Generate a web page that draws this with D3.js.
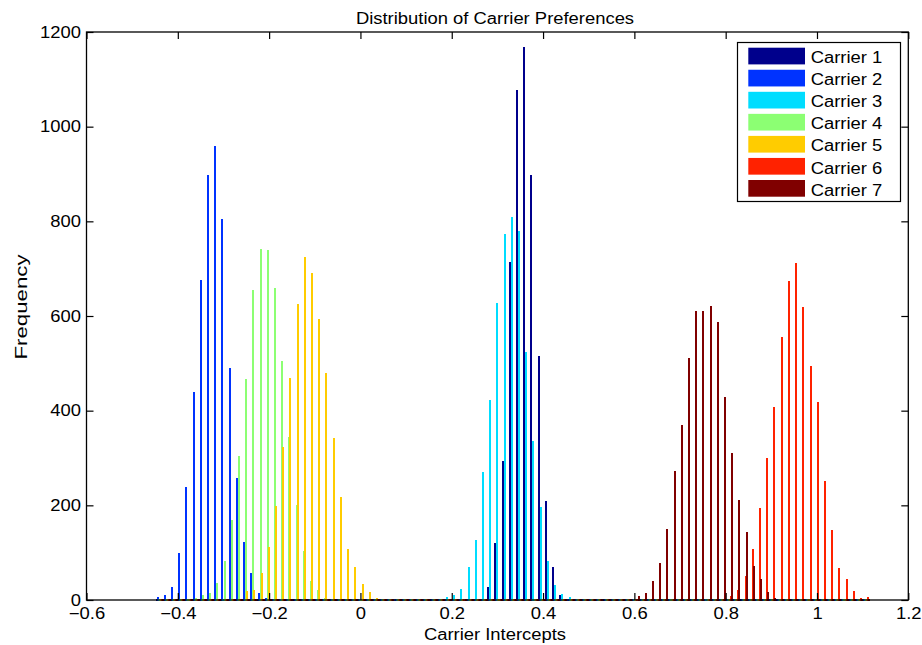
<!DOCTYPE html>
<html>
<head>
<meta charset="utf-8">
<script src="https://cdn.jsdelivr.net/npm/d3@7"></script>
<style>
body { margin: 0; background: #fff; }
text { font-family: "Liberation Sans", Arial, Helvetica, sans-serif; fill: #000; }
</style>
</head>
<body>
<div class="svg-container"></div>
<script>
var width = 922,
  height = 645;

// data
var carriers = ["Carrier 1", "Carrier 2", "Carrier 3", "Carrier 4", "Carrier 5", "Carrier 6", "Carrier 7"];
var colors = ["#00008c", "#0033ff", "#00ddff", "#8cff73", "#ffcc00", "#ff2200", "#800000"];

var binFirst = -0.4398,
  binWidth = 0.01579,
  binCount = 99;

// first bin index of each carrier's counts
var startBins = [45, 0, 40, 5, 12, 79, 64];

var carrier1 = [2, 27, 120, 294, 714, 1077, 1169, 897, 516, 210, 69, 10];
var carrier2 = [7, 10, 28, 100, 238, 439, 676, 898, 960, 804, 490, 258, 123, 58, 15, 5, 1, 2];
var carrier3 = [6, 10, 24, 69, 127, 270, 422, 627, 773, 810, 779, 525, 336, 196, 82, 31, 13, 6, 2];
var carrier4 = [4, 10, 14, 35, 83, 169, 304, 466, 655, 742, 739, 659, 504, 345, 200, 104, 40, 21, 5];
var carrier5 = [18, 21, 58, 111, 199, 324, 469, 625, 725, 690, 594, 479, 342, 218, 107, 69, 34, 16, 4];
var carrier6 = [8, 22, 50, 107, 194, 301, 407, 555, 673, 711, 618, 494, 418, 252, 148, 68, 44, 20, 4, 7];
var carrier7 = [2, 0, 9, 14, 41, 79, 151, 273, 370, 511, 611, 611, 621, 587, 428, 311, 211, 144, 72, 44, 16, 4, 0, 2];

var xTicks = [-0.6, -0.4, -0.2, 0, 0.2, 0.4, 0.6, 0.8, 1, 1.2];
var yTicks = [0, 200, 400, 600, 800, 1000, 1200];

var counts = [carrier1, carrier2, carrier3, carrier4, carrier5, carrier6, carrier7];

// full count table, one row per carrier
var series = counts.map(function(c, j) {
  var row = [];
  for (var k = 0; k < binCount; k++) {
    var i = k - startBins[j];
    row.push(i >= 0 && i < c.length ? c[i] : 0);
  }
  return row;
});

var axLeft = 86.5, axRight = 908.3, axTop = 32, axBottom = 600;

var x = d3.scaleLinear().domain([-0.6, 1.2]).range([axLeft, axRight]);
var y = d3.scaleLinear().domain([0, 1200]).range([axBottom, axTop]);

var svg = d3.select(".svg-container").append("svg")
  .attr("width", width)
  .attr("height", height);

var slot = (x(binWidth) - x(0)) / 7;
var barW = 2;

series.forEach(function(row, j) {
  svg.append("g")
    .selectAll("rect")
    .data(row)
    .enter()
    .append("rect")
    .attr("shape-rendering", "crispEdges")
    .attr("fill", colors[j])
    .attr("x", function(d, k) { return Math.round(x(binFirst + k * binWidth) + (j - 3) * slot - barW / 2); })
    .attr("width", barW)
    .attr("y", function(d) { return Math.min(y(d), axBottom - 1.5); })
    .attr("height", function(d) { return axBottom + 0.5 - Math.min(y(d), axBottom - 1.5); });
});

// axes
var gx = svg.append("g").attr("transform", "translate(0," + axBottom + ")")
  .call(d3.axisBottom(x).tickValues(xTicks).tickSizeInner(-7).tickSizeOuter(0).tickPadding(8)
    .tickFormat(function(d) { return d3.format("")(d).replace("-", "\u2212"); }));
var gxt = svg.append("g").attr("transform", "translate(0," + axTop + ")")
  .call(d3.axisTop(x).tickValues(xTicks).tickSizeInner(-7).tickSizeOuter(0).tickFormat(""));
var gy = svg.append("g").attr("transform", "translate(" + axLeft + ",0)")
  .call(d3.axisLeft(y).tickValues(yTicks).tickSizeInner(-7).tickSizeOuter(0).tickPadding(5.5)
    .tickFormat(d3.format("d")));
var gyr = svg.append("g").attr("transform", "translate(" + axRight + ",0)")
  .call(d3.axisRight(y).tickValues(yTicks).tickSizeInner(-7).tickSizeOuter(0).tickFormat(""));

[gx, gxt, gy, gyr].forEach(function(g) {
  g.select(".domain").remove();
  g.selectAll("line").attr("stroke", "#000").attr("stroke-width", 1.2);
  g.selectAll("text").attr("font-size", 16).attr("font-family", null);
});

svg.append("rect")
  .attr("x", axLeft).attr("y", axTop)
  .attr("width", axRight - axLeft).attr("height", axBottom - axTop)
  .attr("fill", "none")
  .attr("stroke", "#000")
  .attr("stroke-width", 1.3);

// titles
svg.append("text")
  .attr("class", "wide")
  .attr("x", 495).attr("y", 24)
  .attr("text-anchor", "middle")
  .attr("font-size", 16)
  .text("Distribution of Carrier Preferences");

svg.append("text")
  .attr("class", "wide")
  .attr("x", 495).attr("y", 640)
  .attr("text-anchor", "middle")
  .attr("font-size", 16)
  .text("Carrier Intercepts");

svg.append("text")
  .attr("transform", "translate(26.5,307) rotate(-90)")
  .attr("text-anchor", "middle")
  .attr("font-size", 16)
  .attr("textLength", 105)
  .attr("lengthAdjust", "spacingAndGlyphs")
  .text("Frequency");

// legend
var legend = svg.append("g");
legend.append("rect")
  .attr("x", 737.5).attr("y", 42.5)
  .attr("width", 163).attr("height", 159)
  .attr("fill", "#fff")
  .attr("stroke", "#000")
  .attr("stroke-width", 1.2);

var items = legend.selectAll(".item")
  .data(carriers)
  .enter()
  .append("g")
  .attr("class", "item")
  .attr("transform", function(d, i) { return "translate(0," + (47.7 + i * 22.05) + ")"; });

items.append("rect")
  .attr("x", 748.3).attr("y", 0)
  .attr("width", 56.7).attr("height", 16.7)
  .attr("fill", function(d, i) { return colors[i]; });

items.append("text")
  .attr("class", "wide")
  .attr("x", 810.7).attr("y", 15.6)
  .attr("font-size", 16)
  .text(function(d) { return d; });

// text in the picture is a bit wider than the font
svg.selectAll(".tick text, text.wide").each(function() {
  var t = d3.select(this);
  if (t.text() === "") return;
  t.attr("textLength", this.getComputedTextLength() * 1.15)
    .attr("lengthAdjust", "spacingAndGlyphs");
});
</script>
</body>
</html>
